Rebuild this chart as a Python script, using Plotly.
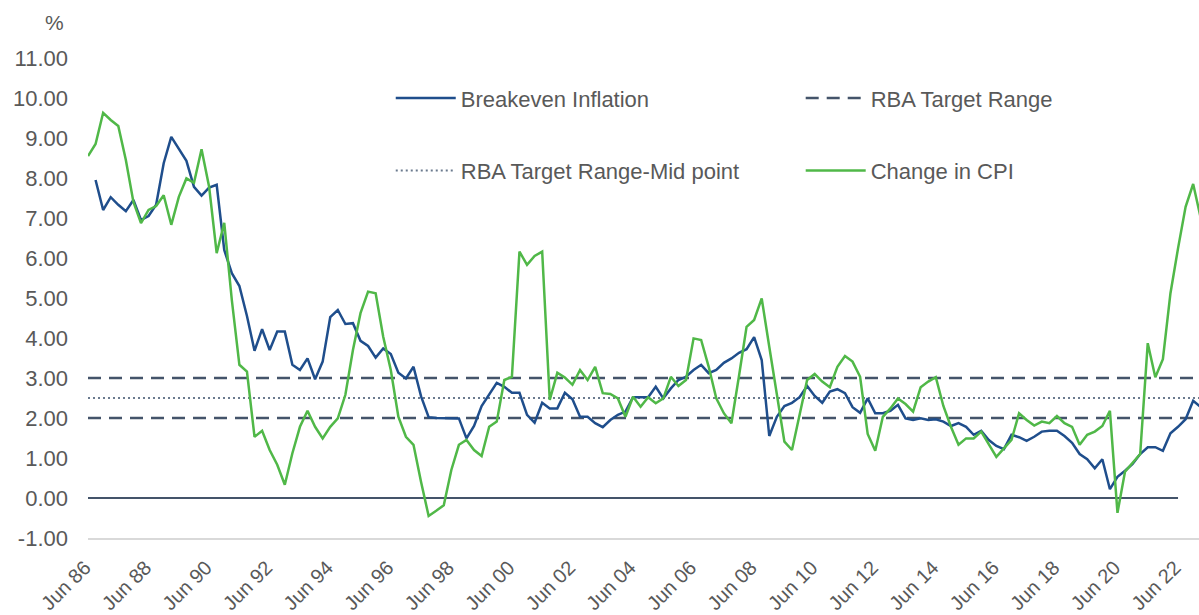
import plotly.graph_objects as go

# ---- categories: quarterly, Jun 86 .. Mar 23 ----
months = ["Mar", "Jun", "Sep", "Dec"]
quarters = []
for yr in range(1986, 2024):
    for m in months:
        quarters.append(f"{m} {yr % 100:02d}")
quarters = quarters[quarters.index("Jun 86"): quarters.index("Mar 23") + 1]

tick_labels = ["Jun 86", "Jun 88", "Jun 90", "Jun 92", "Jun 94", "Jun 96", "Jun 98",
               "Jun 00", "Jun 02", "Jun 04", "Jun 06", "Jun 08", "Jun 10", "Jun 12",
               "Jun 14", "Jun 16", "Jun 18", "Jun 20", "Jun 22"]

# ---- series values (%) ----
change_in_cpi = [
    8.55, 8.85, 9.63, 9.45, 9.30, 8.45, 7.40, 6.87, 7.20, 7.30,
    7.57, 6.83, 7.53, 7.99, 7.88, 8.72, 7.78, 6.12, 6.88, 4.95,
    3.33, 3.16, 1.53, 1.68, 1.20, 0.83, 0.33, 1.12, 1.78, 2.18,
    1.78, 1.49, 1.78, 1.99, 2.58, 3.70, 4.62, 5.16, 5.12, 4.03,
    3.20, 2.03, 1.53, 1.33, 0.40, -0.45, -0.32, -0.18, 0.70, 1.33,
    1.45, 1.20, 1.05, 1.78, 1.91, 2.95, 3.03, 6.16, 5.83, 6.05,
    6.16, 2.45, 3.13, 3.01, 2.83, 3.20, 2.95, 3.28, 2.62, 2.60,
    2.49, 2.03, 2.53, 2.28, 2.52, 2.37, 2.49, 3.03, 2.80, 2.95,
    3.99, 3.95, 3.28, 2.49, 2.12, 1.87, 3.05, 4.28, 4.45, 4.99,
    3.78, 2.58, 1.41, 1.20, 2.05, 2.95, 3.10, 2.91, 2.77, 3.28,
    3.55, 3.41, 3.03, 1.60, 1.18, 2.03, 2.24, 2.49, 2.35, 2.16,
    2.77, 2.91, 3.02, 2.30, 1.78, 1.33, 1.49, 1.49, 1.66, 1.33,
    1.03, 1.24, 1.45, 2.12, 1.95, 1.81, 1.91, 1.87, 2.05, 1.87,
    1.78, 1.33, 1.58, 1.66, 1.80, 2.18, -0.37, 0.66, 0.87, 1.10,
    3.87, 3.02, 3.47, 5.12, 6.24, 7.28, 7.85, 7.00,
]

breakeven_inflation = [
    None, 7.95, 7.20, 7.52, 7.33, 7.17, 7.45, 6.95, 7.05, 7.33,
    8.37, 9.03, 8.72, 8.43, 7.78, 7.56, 7.76, 7.83, 6.20, 5.62,
    5.30, 4.55, 3.68, 4.22, 3.70, 4.16, 4.16, 3.33, 3.20, 3.49,
    2.97, 3.41, 4.52, 4.70, 4.35, 4.37, 3.93, 3.80, 3.51, 3.74,
    3.60, 3.13, 2.99, 3.28, 2.54, 2.02, 2.00, 2.00, 2.00, 1.99,
    1.49, 1.80, 2.30, 2.58, 2.88, 2.78, 2.63, 2.63, 2.08, 1.88,
    2.38, 2.24, 2.24, 2.63, 2.47, 2.03, 2.03, 1.87, 1.77, 1.95,
    2.08, 2.16, 2.52, 2.52, 2.52, 2.78, 2.49, 2.74, 2.95, 3.03,
    3.20, 3.33, 3.12, 3.20, 3.38, 3.49, 3.63, 3.72, 4.02, 3.45,
    1.55, 2.03, 2.30, 2.38, 2.52, 2.80, 2.55, 2.38, 2.66, 2.72,
    2.62, 2.27, 2.13, 2.49, 2.12, 2.12, 2.18, 2.33, 1.99, 1.95,
    1.99, 1.95, 1.97, 1.91, 1.80, 1.87, 1.78, 1.58, 1.68, 1.45,
    1.30, 1.22, 1.58, 1.52, 1.43, 1.53, 1.66, 1.68, 1.68, 1.55,
    1.38, 1.10, 0.97, 0.74, 0.97, 0.22, 0.53, 0.68, 0.85, 1.10,
    1.27, 1.27, 1.18, 1.62, 1.78, 1.97, 2.43, 2.27,
]

rba_target_low = [2.0] * len(quarters)
rba_target_high = [3.0] * len(quarters)
rba_mid_point = [2.5] * len(quarters)
zero_line = [0.0] * (quarters.index("Jun 22") + 1)

y_ticks = [-1, 0, 1, 2, 3, 4, 5, 6, 7, 8, 9, 10, 11]
y_tick_text = ["-1.00", "0.00", "1.00", "2.00", "3.00", "4.00", "5.00", "6.00",
               "7.00", "8.00", "9.00", "10.00", "11.00"]

# ---- styles ----
BLUE = "#1F4E8C"
GREEN = "#50B848"
SLATE = "#44546A"
DOT = "#6A7A8E"
TXT = "#595959"
FONT = "Liberation Sans, Arial, sans-serif"

fig = go.Figure()

fig.add_trace(go.Scatter(x=quarters[:len(zero_line)], y=zero_line, mode="lines",
                         line=dict(color=SLATE, width=2), showlegend=False, hoverinfo="skip"))
fig.add_trace(go.Scatter(x=quarters, y=rba_target_high, mode="lines", name="RBA Target Range",
                         line=dict(color=SLATE, width=2.5, dash="13px,8px"),
                         legend="legend2", legendgroup="g2", legendrank=1))
fig.add_trace(go.Scatter(x=quarters, y=rba_target_low, mode="lines", name="RBA Target Range",
                         line=dict(color=SLATE, width=2.5, dash="13px,8px"),
                         showlegend=False, legend="legend2", legendgroup="g2"))
fig.add_trace(go.Scatter(x=quarters, y=rba_mid_point, mode="lines", name="RBA Target Range-Mid point",
                         line=dict(color=DOT, width=2, dash="2px,3px"),
                         legend="legend", legendgroup="g3", legendrank=2))
fig.add_trace(go.Scatter(x=quarters, y=breakeven_inflation, mode="lines", name="Breakeven Inflation",
                         line=dict(color=BLUE, width=2.5), connectgaps=False,
                         legend="legend", legendgroup="g1", legendrank=1))
fig.add_trace(go.Scatter(x=quarters, y=change_in_cpi, mode="lines", name="Change in CPI",
                         line=dict(color=GREEN, width=2.5),
                         legend="legend2", legendgroup="g4", legendrank=2))

legend_common = dict(
    orientation="v", xanchor="left", yanchor="top",
    font=dict(family=FONT, size=22, color=TXT),
    bgcolor="rgba(0,0,0,0)", tracegroupgap=41, itemwidth=60,
    traceorder="grouped",
)

fig.update_layout(
    width=1199, height=615,
    margin=dict(l=88, r=0, t=58, b=77),
    paper_bgcolor="white", plot_bgcolor="white",
    font=dict(family=FONT, color=TXT),
    legend=dict(x=0.2725, y=0.96, **legend_common),
    legend2=dict(x=0.6415, y=0.96, **legend_common),
    xaxis=dict(
        type="category", categoryorder="array", categoryarray=quarters,
        range=[0, 146.77], tickmode="array", tickvals=tick_labels, ticktext=tick_labels,
        tickangle=-45, tickfont=dict(family=FONT, size=20, color=TXT),
        ticklabelshift=-3, ticklabelstandoff=8,
        showgrid=False, zeroline=False, showline=True, linecolor="#D9D9D9", linewidth=2,
        ticks="", automargin=False,
    ),
    yaxis=dict(
        range=[-1, 11], tickmode="array", tickvals=y_ticks, ticktext=y_tick_text,
        tickfont=dict(family=FONT, size=22, color=TXT),
        showgrid=False, zeroline=False, showline=False, ticks="",
        ticklabelstandoff=19, automargin=False,
    ),
    annotations=[dict(text="%", xref="paper", yref="paper", x=-0.03, y=1.075,
                      xanchor="center", yanchor="middle", showarrow=False,
                      font=dict(family=FONT, size=21, color=TXT))],
)

fig.write_html(
    "out.html",
    config={"displayModeBar": False},
    post_script="document.body.style.margin='0px';document.body.style.overflow='hidden';",
)
